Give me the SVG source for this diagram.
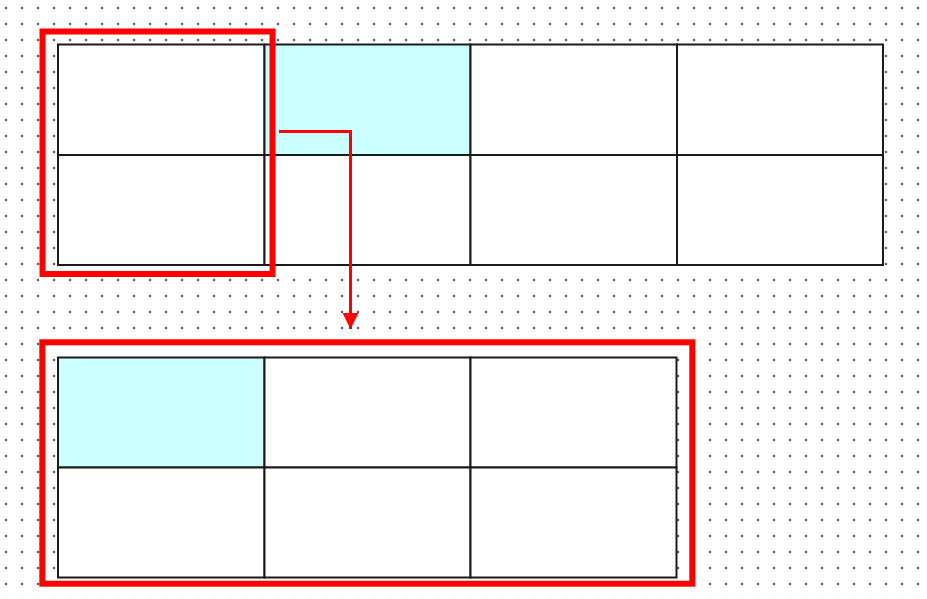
<svg xmlns="http://www.w3.org/2000/svg" width="927" height="599" viewBox="0 0 927 599">
  <defs>
    <pattern id="dots" x="0" y="0" width="16" height="16" patternUnits="userSpaceOnUse">
      <circle cx="6" cy="8" r="1.25" fill="#5a5a5a"/>
    </pattern>
    <marker id="arrow" viewBox="0 0 16 16" refX="16" refY="8" markerWidth="16" markerHeight="16" markerUnits="userSpaceOnUse" orient="auto">
      <path d="M0,0 L16,8 L0,16 Z" fill="#ff0000"/>
    </marker>
  </defs>
  <style>
    .cell { fill: #ffffff; stroke: #1a1a1a; stroke-width: 2; }
    .hl { fill: #ccffff; }
    .frame { fill: none; stroke: #ff0000; stroke-width: 6; }
    .conn { fill: none; stroke: #ff0000; stroke-width: 3; }
  </style>
  <rect x="0" y="0" width="927" height="599" fill="#ffffff"/>
  <rect x="0" y="0" width="927" height="599" fill="url(#dots)"/>

  <g id="top-table">
    <rect class="cell" x="58" y="44.5" width="206.5" height="110.5"/>
    <rect class="cell hl" x="264.5" y="44.5" width="206" height="110.5"/>
    <rect class="cell" x="470.5" y="44.5" width="206.5" height="110.5"/>
    <rect class="cell" x="677" y="44.5" width="206" height="110.5"/>
    <rect class="cell" x="58" y="155" width="206.5" height="110"/>
    <rect class="cell" x="264.5" y="155" width="206" height="110"/>
    <rect class="cell" x="470.5" y="155" width="206.5" height="110"/>
    <rect class="cell" x="677" y="155" width="206" height="110"/>
  </g>

  <g id="bottom-table">
    <rect class="cell hl" x="58" y="357.5" width="206.5" height="110"/>
    <rect class="cell" x="264.5" y="357.5" width="206" height="110"/>
    <rect class="cell" x="470.5" y="357.5" width="206" height="110"/>
    <rect class="cell" x="58" y="467.5" width="206.5" height="110"/>
    <rect class="cell" x="264.5" y="467.5" width="206" height="110"/>
    <rect class="cell" x="470.5" y="467.5" width="206" height="110"/>
  </g>

  <g id="top-frame">
    <rect class="frame" x="42.5" y="31.5" width="230" height="242.5"/>
  </g>
  <g id="bottom-frame">
    <rect class="frame" x="42.3" y="342.3" width="650" height="241.4"/>
  </g>

  <g id="connectors">
    <path class="conn" d="M279,131.5 L350.5,131.5 L350.5,329" marker-end="url(#arrow)"/>
  </g>
</svg>
